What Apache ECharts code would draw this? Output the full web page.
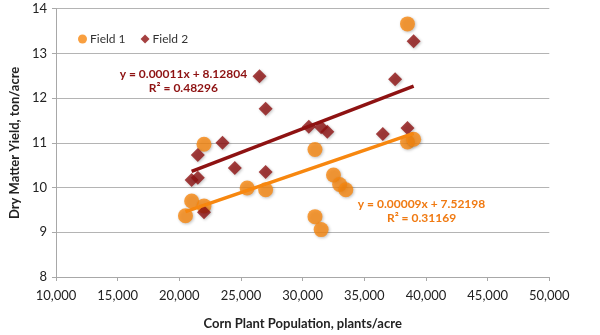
<!DOCTYPE html>
<html><head><meta charset="utf-8">
<script src="https://cdn.jsdelivr.net/npm/echarts@6/dist/echarts.min.js"></script>
<style>html,body{margin:0;padding:0;background:#fff}#c{width:600px;height:335px}</style>
</head><body><div id="c"></div>
<script>
// ---- data ----
const seriesNames = ['Field 1', 'Field 2'];
const field1X = [38500, 38500, 39000, 22000, 31000, 32500, 33000, 33500, 25500, 27000, 21000, 22000, 20500, 31000, 31500];
const field1Y = [13.66, 11.02, 11.08, 10.97, 10.85, 10.28, 10.07, 9.95, 9.99, 9.95, 9.70, 9.59, 9.37, 9.35, 9.06];
const field2X = [39000, 26500, 27000, 30500, 31500, 32000, 37500, 36500, 38500, 23500, 21500, 24500, 27000, 21000, 21500, 22000];
const field2Y = [13.27, 12.49, 11.76, 11.36, 11.35, 11.25, 12.42, 11.20, 11.33, 11.00, 10.73, 10.44, 10.35, 10.17, 10.22, 9.45];
const trend1X = [20500, 39000];
const trend1Y = [9.46, 11.21];
const trend2X = [21000, 39000];
const trend2Y = [10.36, 12.27];
const xTicks = [10000, 15000, 20000, 25000, 30000, 35000, 40000, 45000, 50000];
const yTicks = [8, 9, 10, 11, 12, 13, 14];
const trend1Text = ['y = 0.00009x + 7.52198', 'R² = 0.31169'];
const trend2Text = ['y = 0.00011x + 8.12804', 'R² = 0.48296'];
const xAxisTitle = 'Corn Plant Population, plants/acre';
const yAxisTitle = 'Dry Matter Yield, ton/acre';

// ---- chart ----
const zip = (a, b) => a.map((v, i) => [v, b[i]]);
const FONT = 'Lato';
const ORANGE = '#F7870F';
const DARKRED = '#8E1212';
const chart = echarts.init(document.getElementById('c'), null, {renderer: 'canvas'});
const fmt = v => v.toLocaleString('en-US');

chart.setOption({
  animation: false,
  textStyle: {fontFamily: FONT},
  grid: {left: 52.7, right: 50.7, top: 8.7, bottom: 50.3, containLabel: false},
  legend: {
    left: 73, top: 28,
    itemWidth: 9, itemHeight: 9, itemGap: 15,
    textStyle: {fontFamily: FONT, fontSize: 12, color: '#333', padding: [0, 0, 0, -2]},
    data: [{name: seriesNames[0], icon: 'circle'}, {name: seriesNames[1], icon: 'diamond'}]
  },
  xAxis: {
    type: 'value', min: xTicks[0], max: xTicks[xTicks.length - 1],
    interval: xTicks[1] - xTicks[0],
    name: xAxisTitle, nameLocation: 'middle', nameGap: 40,
    nameTextStyle: {fontFamily: FONT, fontWeight: 'bold', fontSize: 13, color: '#222'},
    axisLine: {show: true, lineStyle: {color: '#a8a8a8', width: 1}},
    axisTick: {show: true, length: 4, lineStyle: {color: '#a8a8a8'}},
    axisLabel: {formatter: fmt, fontFamily: FONT, fontSize: 13, color: '#222', margin: 12},
    splitLine: {show: false}
  },
  yAxis: {
    type: 'value', min: yTicks[0], max: yTicks[yTicks.length - 1],
    interval: yTicks[1] - yTicks[0],
    name: yAxisTitle, nameLocation: 'middle', nameGap: 31, nameRotate: 90,
    nameTextStyle: {fontFamily: FONT, fontWeight: 'bold', fontSize: 13, color: '#222'},
    axisLine: {show: true, lineStyle: {color: '#a8a8a8', width: 1}},
    axisTick: {show: true, length: 4, lineStyle: {color: '#a8a8a8'}},
    axisLabel: {fontFamily: FONT, fontSize: 13, color: '#222', margin: 9},
    splitLine: {show: true, lineStyle: {color: '#b4b4b4', width: 1}}
  },
  series: [
    {
      name: seriesNames[0], type: 'scatter', symbol: 'circle', symbolSize: 15, z: 2,
      itemStyle: {color: ORANGE, shadowBlur: 3, shadowColor: 'rgba(0,0,0,0.3)', shadowOffsetX: 1, shadowOffsetY: 1},
      data: zip(field1X, field1Y)
    },
    {
      name: seriesNames[1], type: 'scatter', symbol: 'diamond', symbolSize: 14, z: 3,
      itemStyle: {color: DARKRED, shadowBlur: 3, shadowColor: 'rgba(0,0,0,0.3)', shadowOffsetX: 1, shadowOffsetY: 1},
      data: zip(field2X, field2Y)
    },
    {
      name: 'trend1', type: 'line', symbol: 'none', z: 4, silent: true,
      lineStyle: {color: ORANGE, width: 3.5},
      data: zip(trend1X, trend1Y)
    },
    {
      name: 'trend2', type: 'line', symbol: 'none', z: 4, silent: true,
      lineStyle: {color: DARKRED, width: 3.5},
      data: zip(trend2X, trend2Y)
    }
  ]
});

// regression equation labels, anchored in data space
const p2 = chart.convertToPixel({gridIndex: 0}, [20334, 12.38]);
const p1 = chart.convertToPixel({gridIndex: 0}, [39640, 9.47]);
const lbl = (p, lines, color) => ({
  type: 'text', x: p[0], y: p[1], z: 10,
  style: {text: lines.join('\n'), fill: color, font: 'bold 12px ' + FONT, align: 'center', verticalAlign: 'middle', lineHeight: 14}
});
chart.setOption({graphic: [lbl(p2, trend2Text, DARKRED), lbl(p1, trend1Text, '#F07A12')]});
</script></body></html>
